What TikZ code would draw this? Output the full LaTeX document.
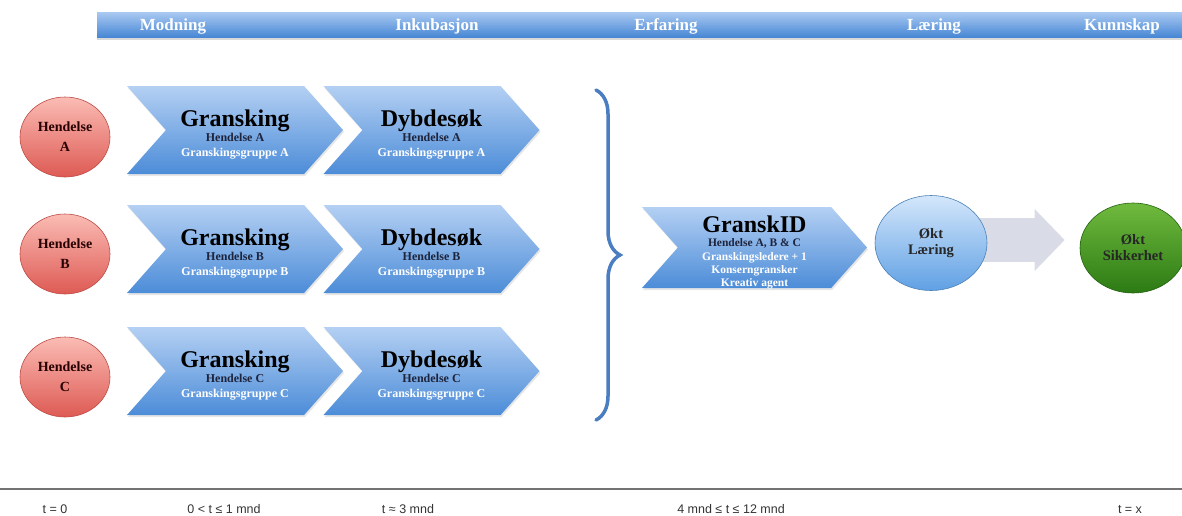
\documentclass[tikz,border=0pt]{standalone}
\usepackage{fontspec}
\setmainfont{Liberation Serif}
\newfontfamily\timefont{Liberation Sans}
\usepackage{tikz}
\usetikzlibrary{arrows.meta,shapes.symbols,shapes.geometric,shadows,backgrounds,decorations.pathreplacing}

\definecolor{chevtop}{RGB}{180,208,243}
\definecolor{chevbot}{RGB}{76,140,216}
\definecolor{bartop}{RGB}{168,200,241}
\definecolor{barbot}{RGB}{70,134,212}
\definecolor{redtop}{RGB}{250,188,180}
\definecolor{redbot}{RGB}{222,90,84}
\definecolor{bluetop}{RGB}{212,231,251}
\definecolor{bluebot}{RGB}{96,160,228}
\definecolor{greentop}{RGB}{112,186,62}
\definecolor{greenbot}{RGB}{44,122,20}
\definecolor{bracecol}{RGB}{74,126,192}
\definecolor{darktext}{RGB}{30,36,60}
\definecolor{arrowgray}{RGB}{217,220,230}

\newcommand{\chevtitle}[1]{{\fontsize{24}{26}\selectfont\bfseries\color{black}#1}}
\newcommand{\chevdark}[1]{{\color{darktext}#1}}
\newcommand{\chevwhite}[1]{{\color{white}#1}}

\tikzset{
  chev/.style={signal, signal to=east, signal from=west, signal pointer angle=97,
    minimum width=216pt, minimum height=88pt, inner sep=0pt,
    top color=chevtop, bottom color=chevbot,
    drop shadow={opacity=0.2, shadow xshift=1pt, shadow yshift=-2pt}},
  chevtext/.style={align=center, inner sep=0pt, font=\fontsize{12}{15}\selectfont\bfseries},
  event/.style={ellipse, minimum width=90pt, minimum height=80pt, inner sep=0pt,
    top color=redtop, bottom color=redbot, draw=redbot!85!black, line width=0.6pt,
    align=center, text=black!85!red, font=\fontsize{14}{20}\selectfont\bfseries},
  result/.style={ellipse, inner sep=0pt, line width=0.6pt, align=center,
    text=black!85, font=\fontsize{14.5}{16}\selectfont\bfseries},
  phase/.style={text=white, font=\fontsize{17}{19}\selectfont\bfseries},
  timelbl/.style={font=\timefont\fontsize{12.5}{14}\selectfont, text=black!80},
}

\begin{document}
\begin{tikzpicture}[x=1pt, y=-1pt]
      \useasboundingbox (0,0) rectangle (1182,515);

      % phases
      \node[rectangle, minimum width=1085pt, minimum height=25pt, top color=bartop, bottom color=barbot,
        drop shadow={opacity=0.3, shadow xshift=0pt, shadow yshift=-2pt}] at (639.5,25) (bar) {};
      \node[phase] at (173,26) (modning) {Modning};
      \node[phase] at (437,26) (inkub) {Inkubasjon};
      \node[phase] at (666,26) (erfaring) {Erfaring};
      \node[phase] at (934,26) (laer) {Læring};
      \node[phase] at (1122,26) (kunnskap) {Kunnskap};

      \node[event] at (65,137) (hA) {Hendelse\\A};
      \node[event] at (65,254) (hB) {Hendelse\\B};
      \node[event] at (65,377) (hC) {Hendelse\\C};

      \node[chev] at (235,130) (gA) {};
      \node[chev] at (431.5,130) (dA) {};
      \node[chev] at (235,249) (gB) {};
      \node[chev] at (431.5,249) (dB) {};
      \node[chev] at (235,371) (gC) {};
      \node[chev] at (431.5,371) (dC) {};
      \node[chevtext] at ([yshift=-4pt]gA.center) (gA-t) {\chevtitle{Gransking}\\ \chevdark{Hendelse A}\\ \chevwhite{Granskingsgruppe A}};
      \node[chevtext] at ([yshift=-4pt]dA.center) (dA-t) {\chevtitle{Dybdesøk}\\ \chevdark{Hendelse A}\\ \chevwhite{Granskingsgruppe A}};
      \node[chevtext] at ([yshift=-4pt]gB.center) (gB-t) {\chevtitle{Gransking}\\ \chevdark{Hendelse B}\\ \chevwhite{Granskingsgruppe B}};
      \node[chevtext] at ([yshift=-4pt]dB.center) (dB-t) {\chevtitle{Dybdesøk}\\ \chevdark{Hendelse B}\\ \chevwhite{Granskingsgruppe B}};
      \node[chevtext] at ([yshift=-4pt]gC.center) (gC-t) {\chevtitle{Gransking}\\ \chevdark{Hendelse C}\\ \chevwhite{Granskingsgruppe C}};
      \node[chevtext] at ([yshift=-4pt]dC.center) (dC-t) {\chevtitle{Dybdesøk}\\ \chevdark{Hendelse C}\\ \chevwhite{Granskingsgruppe C}};

      \coordinate (bt) at (596,90);
      \coordinate (bb) at (596,420);
      \draw[bracecol, line width=3.5pt, line cap=round, decorate, decoration={brace, amplitude=24pt}] (bt) -- (bb);

      \node[chev, minimum width=225pt, minimum height=81pt] at (754.5,247.5) (gid) {};
      \node[chevtext, font=\fontsize{11.5}{13.4}\selectfont\bfseries] at ([yshift=-5pt]gid.center) (gid-t)
        {\chevtitle{GranskID}\\[1pt] \chevdark{Hendelse A, B \& C}\\ \chevwhite{Granskingsledere + 1}\\ \chevwhite{Konserngransker}\\ \chevwhite{Kreativ agent}};

      \node[result, minimum width=112pt, minimum height=95pt, top color=bluetop, bottom color=bluebot, draw=bluebot!80!black] at (931,243) (okl) {Økt\\Læring};
      \node[result, minimum width=106pt, minimum height=90pt, top color=greentop, bottom color=greenbot, draw=greenbot!80!black] at (1133,248) (oks) {Økt\\Sikkerhet};
      \begin{scope}[on background layer]
        \draw[arrowgray, line width=44pt, -{Triangle[width=60pt,length=30pt]}, shorten >=15pt]
          ([yshift=3pt]okl.center) -- ([yshift=3pt]okl.center -| oks.west);
      \end{scope}

      % time axis
      \coordinate (tl) at (0,489);
      \coordinate (tr) at (1182,489);
      \draw[black!55, line width=1.5pt] (tl) -- (tr);
      \node[timelbl] at (55,509) (t0) {t = 0};
      \node[timelbl] at (224,509) (t1) {0 < t ≤ 1 mnd};
      \node[timelbl] at (408,509) (t3) {t ≈ 3 mnd};
      \node[timelbl] at (731,509) (t12) {4 mnd ≤ t ≤ 12 mnd};
      \node[timelbl] at (1130,509) (tx) {t = x};
\end{tikzpicture}
\end{document}
